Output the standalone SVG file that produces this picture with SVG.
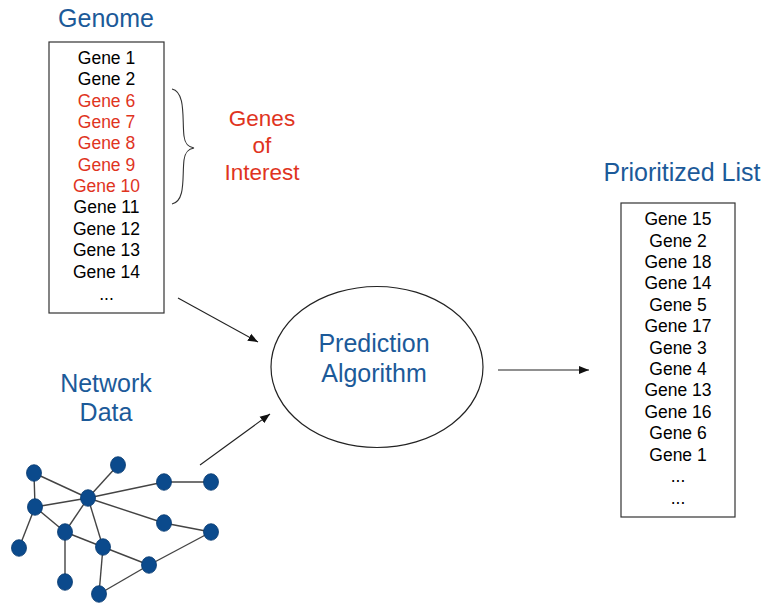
<svg xmlns="http://www.w3.org/2000/svg" width="764" height="606" viewBox="0 0 764 606">
<defs>
<style>
text{font-family:"Liberation Sans",Arial,sans-serif;text-anchor:middle}
.title{font-size:25px;fill:#1c5a99}
.gene{font-size:17.5px;fill:#000}
.red{fill:#e0341e}
.box{fill:#fff;stroke:#333;stroke-width:1.2}
.conn{stroke:#222;stroke-width:1.1;fill:none}
.edge{stroke:#444;stroke-width:1.4}
.nd{fill:#0b4a8c;stroke:#083a70;stroke-width:0.8}
</style>
<marker id="ah" viewBox="0 0 10 10" refX="10" refY="5" markerWidth="10" markerHeight="10" markerUnits="userSpaceOnUse" orient="auto">
<path d="M0,1 L10,5 L0,9 Z" fill="#111"/>
</marker>
</defs>
<rect width="764" height="606" fill="#fff"/>

<g id="genome">
<text class="title" x="106" y="27">Genome</text>
<rect class="box" x="49" y="42" width="115" height="271"/>
<g class="gene">
<text x="106.5" y="64">Gene 1</text>
<text x="106.5" y="85">Gene 2</text>
<text x="106.5" y="107" class="red">Gene 6</text>
<text x="106.5" y="128" class="red">Gene 7</text>
<text x="106.5" y="149" class="red">Gene 8</text>
<text x="106.5" y="171" class="red">Gene 9</text>
<text x="106.5" y="192" class="red">Gene 10</text>
<text x="106.5" y="213">Gene 11</text>
<text x="106.5" y="235">Gene 12</text>
<text x="106.5" y="256">Gene 13</text>
<text x="106.5" y="278">Gene 14</text>
<text x="106.5" y="300">...</text>
</g>
</g>

<g id="genes-of-interest">
<path d="M172,89 C186,92 182,120 184,136 C185,144 188,147 194,148 C188,149 185,152 184,160 C182,176 186,201 172,204" fill="none" stroke="#333" stroke-width="1.1"/>
<text x="262" y="126" style="font-size:22.5px" class="red">Genes</text>
<text x="262" y="153" style="font-size:22.5px" class="red">of</text>
<text x="262" y="180" style="font-size:22.5px" class="red">Interest</text>
</g>

<g id="prediction-algorithm">
<ellipse cx="377" cy="367" rx="106" ry="80.5" fill="#fff" stroke="#222" stroke-width="1.2"/>
<text class="title" x="374" y="352">Prediction</text>
<text class="title" x="374" y="382">Algorithm</text>
</g>

<g id="prioritized-list">
<text class="title" x="682" y="181">Prioritized List</text>
<rect class="box" x="621" y="203" width="114" height="314"/>
<g class="gene">
<text x="678" y="225">Gene 15</text>
<text x="678" y="246.5">Gene 2</text>
<text x="678" y="268">Gene 18</text>
<text x="678" y="289">Gene 14</text>
<text x="678" y="311">Gene 5</text>
<text x="678" y="332">Gene 17</text>
<text x="678" y="353.5">Gene 3</text>
<text x="678" y="375">Gene 4</text>
<text x="678" y="396">Gene 13</text>
<text x="678" y="418">Gene 16</text>
<text x="678" y="439">Gene 6</text>
<text x="678" y="461">Gene 1</text>
<text x="678" y="482">...</text>
<text x="678" y="504">...</text>
</g>
</g>

<g id="network-data">
<text class="title" x="106" y="392">Network</text>
<text class="title" x="106" y="421">Data</text>
<g class="edge">
<line x1="34" y1="473" x2="35" y2="507"/>
<line x1="34" y1="473" x2="88" y2="498"/>
<line x1="118" y1="465" x2="88" y2="498"/>
<line x1="35" y1="507" x2="88" y2="498"/>
<line x1="88" y1="498" x2="164" y2="482"/>
<line x1="164" y1="482" x2="211" y2="482"/>
<line x1="88" y1="498" x2="164" y2="523"/>
<line x1="164" y1="523" x2="211" y2="532"/>
<line x1="211" y1="532" x2="149" y2="565"/>
<line x1="35" y1="507" x2="19" y2="548"/>
<line x1="35" y1="507" x2="65" y2="532"/>
<line x1="88" y1="498" x2="65" y2="532"/>
<line x1="65" y1="532" x2="65" y2="582"/>
<line x1="65" y1="532" x2="103" y2="547"/>
<line x1="88" y1="498" x2="103" y2="547"/>
<line x1="103" y1="547" x2="149" y2="565"/>
<line x1="103" y1="547" x2="99" y2="594"/>
<line x1="99" y1="594" x2="149" y2="565"/>
</g>
<g class="nd">
<ellipse cx="34" cy="473" rx="7.5" ry="8.3"/>
<ellipse cx="118" cy="465" rx="7.5" ry="8.3"/>
<ellipse cx="35" cy="507" rx="7.5" ry="8.3"/>
<ellipse cx="88" cy="498" rx="7.5" ry="8.3"/>
<ellipse cx="164" cy="482" rx="7.5" ry="8.3"/>
<ellipse cx="211" cy="482" rx="7.5" ry="8.3"/>
<ellipse cx="164" cy="523" rx="7.5" ry="8.3"/>
<ellipse cx="211" cy="532" rx="7.5" ry="8.3"/>
<ellipse cx="19" cy="548" rx="7.5" ry="8.3"/>
<ellipse cx="65" cy="532" rx="7.5" ry="8.3"/>
<ellipse cx="103" cy="547" rx="7.5" ry="8.3"/>
<ellipse cx="149" cy="565" rx="7.5" ry="8.3"/>
<ellipse cx="65" cy="582" rx="7.5" ry="8.3"/>
<ellipse cx="99" cy="594" rx="7.5" ry="8.3"/>
</g>
</g>

<g id="connectors">
<line class="conn" x1="178" y1="298" x2="258" y2="342" marker-end="url(#ah)"/>
<line class="conn" x1="200" y1="465" x2="270" y2="414" marker-end="url(#ah)"/>
<line class="conn" x1="498" y1="370" x2="589" y2="370" marker-end="url(#ah)"/>
</g>
</svg>
